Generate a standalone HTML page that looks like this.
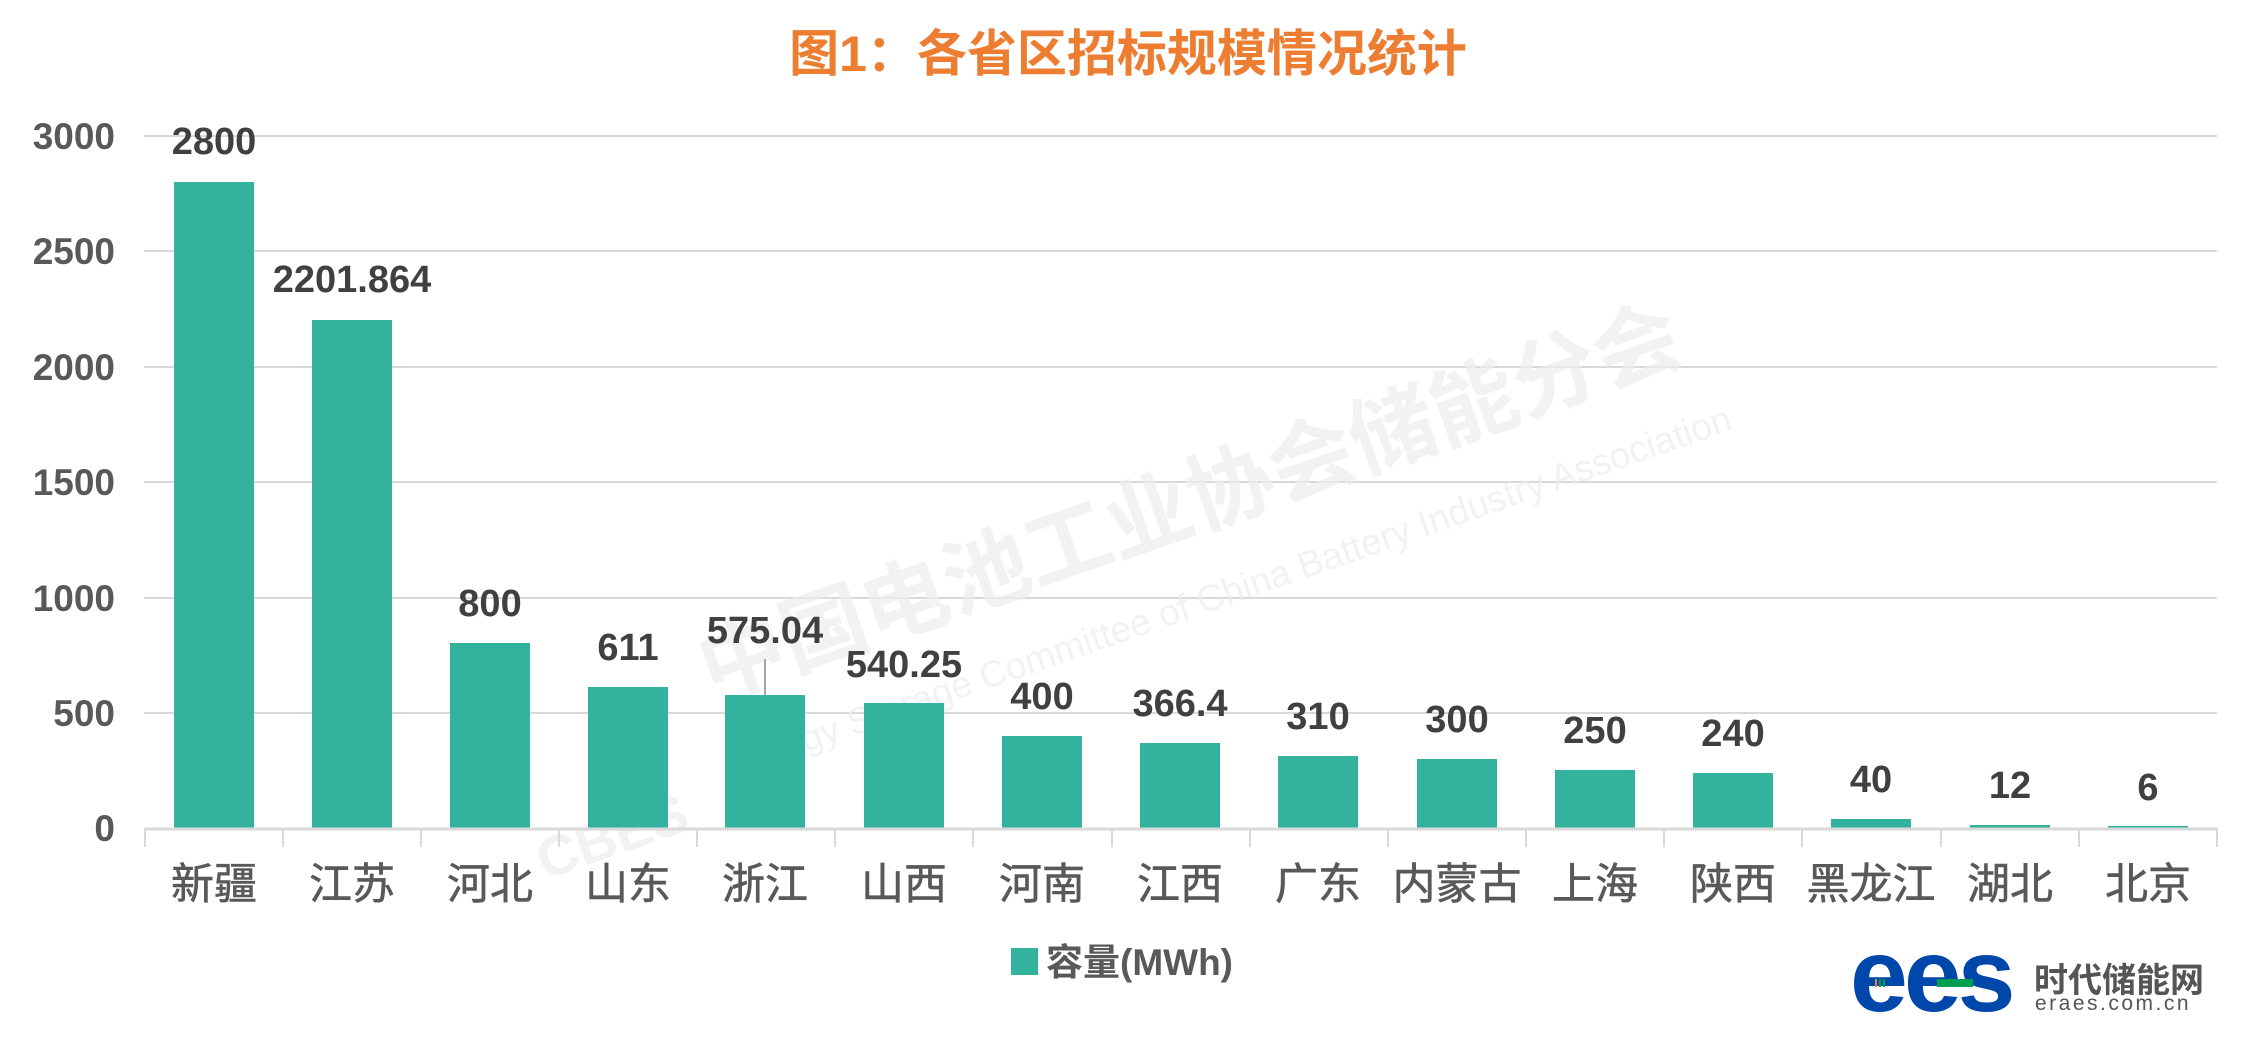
<!DOCTYPE html>
<html><head><meta charset="utf-8"><style>
html,body{margin:0;padding:0;background:#fff;}
svg{display:block;}
</style></head><body>
<svg width="2250" height="1037" viewBox="0 0 2250 1037" xmlns="http://www.w3.org/2000/svg" font-family="'Liberation Sans','Noto Sans CJK SC',sans-serif">
<rect width="2250" height="1037" fill="#fff"/>
<text x="1128" y="71" text-anchor="middle" font-size="50" font-weight="bold" fill="#ED7D31">图1：各省区招标规模情况统计</text>
<g stroke="#d9d9d9" stroke-width="2">
<line x1="144" y1="136" x2="2217" y2="136"/>
<line x1="144" y1="251" x2="2217" y2="251"/>
<line x1="144" y1="367" x2="2217" y2="367"/>
<line x1="144" y1="482" x2="2217" y2="482"/>
<line x1="144" y1="598" x2="2217" y2="598"/>
<line x1="144" y1="713" x2="2217" y2="713"/>
</g>
<g font-size="37" font-weight="bold" fill="#595959" text-anchor="end">
<text x="115" y="149">3000</text><text x="115" y="264">2500</text><text x="115" y="380">2000</text>
<text x="115" y="495">1500</text><text x="115" y="611">1000</text><text x="115" y="726">500</text><text x="115" y="841">0</text>
</g>
<g fill="#ececec" opacity="0.7">
<text transform="translate(712,700) rotate(-19.2)" font-size="86" font-weight="bold">中国电池工业协会储能分会</text>
<text transform="translate(732,778) rotate(-19.2)" font-size="37">Energy Storage Committee of China Battery Industry Association</text>
<text transform="translate(545,880) rotate(-19.2)" font-size="56" font-weight="bold">CBES</text>
</g>
<g fill="#33B39E">
<rect x="174" y="182" width="80" height="646"/>
<rect x="312" y="320" width="80" height="508"/>
<rect x="450" y="643" width="80" height="185"/>
<rect x="588" y="687" width="80" height="141"/>
<rect x="725" y="695" width="80" height="133"/>
<rect x="864" y="703" width="80" height="125"/>
<rect x="1002" y="736" width="80" height="92"/>
<rect x="1140" y="743" width="80" height="85"/>
<rect x="1278" y="756" width="80" height="72"/>
<rect x="1417" y="759" width="80" height="69"/>
<rect x="1555" y="770" width="80" height="58"/>
<rect x="1693" y="773" width="80" height="55"/>
<rect x="1831" y="819" width="80" height="9"/>
<rect x="1970" y="825" width="80" height="3"/>
<rect x="2108" y="826" width="80" height="2"/>
</g>
<line x1="765" y1="659" x2="765" y2="695" stroke="#a6a6a6" stroke-width="2"/>
<g stroke="#d9d9d9" stroke-width="3">
<line x1="144" y1="829" x2="2218" y2="829"/>
</g>
<g stroke="#d9d9d9" stroke-width="2">
<line x1="145" y1="829" x2="145" y2="847"/><line x1="283" y1="829" x2="283" y2="847"/><line x1="421" y1="829" x2="421" y2="847"/>
<line x1="559" y1="829" x2="559" y2="847"/><line x1="697" y1="829" x2="697" y2="847"/><line x1="835" y1="829" x2="835" y2="847"/>
<line x1="973" y1="829" x2="973" y2="847"/><line x1="1112" y1="829" x2="1112" y2="847"/><line x1="1250" y1="829" x2="1250" y2="847"/>
<line x1="1388" y1="829" x2="1388" y2="847"/><line x1="1526" y1="829" x2="1526" y2="847"/><line x1="1664" y1="829" x2="1664" y2="847"/>
<line x1="1802" y1="829" x2="1802" y2="847"/><line x1="1941" y1="829" x2="1941" y2="847"/><line x1="2079" y1="829" x2="2079" y2="847"/>
<line x1="2217" y1="829" x2="2217" y2="847"/>
</g>
<g font-size="38" font-weight="bold" fill="#404040" text-anchor="middle">
<text x="214" y="154">2800</text>
<text x="352" y="292">2201.864</text>
<text x="490" y="616">800</text>
<text x="628" y="660">611</text>
<text x="765" y="643">575.04</text>
<text x="904" y="677">540.25</text>
<text x="1042" y="709">400</text>
<text x="1180" y="716">366.4</text>
<text x="1318" y="729">310</text>
<text x="1457" y="732">300</text>
<text x="1595" y="743">250</text>
<text x="1733" y="746">240</text>
<text x="1871" y="792">40</text>
<text x="2010" y="798">12</text>
<text x="2148" y="800">6</text>
</g>
<g font-size="43" fill="#595959" text-anchor="middle" stroke="#595959" stroke-width="0.6">
<text x="214" y="899">新疆</text><text x="352" y="899">江苏</text><text x="490" y="899">河北</text>
<text x="628" y="899">山东</text><text x="765" y="899">浙江</text><text x="904" y="899">山西</text>
<text x="1042" y="899">河南</text><text x="1180" y="899">江西</text><text x="1318" y="899">广东</text>
<text x="1457" y="899">内蒙古</text><text x="1595" y="899">上海</text><text x="1733" y="899">陕西</text>
<text x="1871" y="899">黑龙江</text><text x="2010" y="899">湖北</text><text x="2148" y="899">北京</text>
</g>
<rect x="1011" y="948" width="27" height="27" fill="#33B39E"/>
<text x="1046" y="975" font-size="37" font-weight="bold" fill="#595959">容量(MWh)</text>
<text x="1850" y="1011" font-size="104" font-weight="bold" fill="#0047AB" letter-spacing="-4">ees</text>
<rect x="1937" y="979" width="36" height="8" fill="#00A050"/>
<rect x="1875" y="979" width="2" height="8" fill="#ED7D31"/>
<rect x="1879" y="979" width="2" height="8" fill="#00A050"/>
<rect x="1883" y="979" width="2" height="8" fill="#00A050"/>
<text x="2034" y="992" font-size="34" font-weight="bold" fill="#555">时代储能网</text>
<text x="2035" y="1010" font-size="21" fill="#555" letter-spacing="2.5">eraes.com.cn</text>
</svg>
</body></html>
